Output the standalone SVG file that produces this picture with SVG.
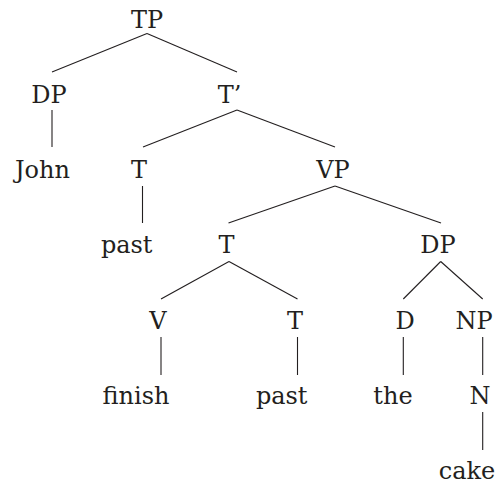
<svg xmlns="http://www.w3.org/2000/svg" width="496" height="484" viewBox="0 0 496 484">
<style>
text{font-family:"DejaVu Serif",serif;font-size:24px;fill:#231f20;text-anchor:middle}
#edges line{stroke:#231f20;stroke-width:1.1;fill:none}
</style>
<rect width="496" height="484" fill="#fff"/>
<g id="edges">
<line x1="147" y1="33.5" x2="52" y2="72"/>
<line x1="147" y1="33.5" x2="237" y2="72"/>
<line x1="52" y1="110" x2="52" y2="147"/>
<line x1="237" y1="110" x2="143" y2="147"/>
<line x1="237" y1="110" x2="335" y2="147"/>
<line x1="142.5" y1="186" x2="142.5" y2="223"/>
<line x1="335" y1="186" x2="228.5" y2="223"/>
<line x1="335" y1="186" x2="441" y2="223"/>
<line x1="229" y1="261.5" x2="161" y2="299"/>
<line x1="229" y1="261.5" x2="297.5" y2="299"/>
<line x1="440.7" y1="261.5" x2="403.3" y2="299"/>
<line x1="440.7" y1="261.5" x2="482.7" y2="299"/>
<line x1="161" y1="337" x2="161" y2="375"/>
<line x1="297.5" y1="337" x2="297.5" y2="375"/>
<line x1="403.3" y1="337" x2="403.3" y2="375"/>
<line x1="482.7" y1="337" x2="482.7" y2="375"/>
<line x1="482.7" y1="412" x2="482.7" y2="450"/>
</g>
<g id="n_TP"><text x="147" y="28">TP</text></g>
<g id="n_DP1"><text x="49" y="103">DP</text></g>
<g id="n_Tbar"><text x="229.5" y="103">T’</text></g>
<g id="n_John"><text x="42.5" y="178">John</text></g>
<g id="n_T1"><text x="139" y="178">T</text></g>
<g id="n_VP"><text x="333" y="178">VP</text></g>
<g id="n_past1"><text x="126.7" y="253">past</text></g>
<g id="n_T2"><text x="226.5" y="253">T</text></g>
<g id="n_DP2"><text x="438" y="253">DP</text></g>
<g id="n_V"><text x="158" y="329">V</text></g>
<g id="n_T3"><text x="295" y="329">T</text></g>
<g id="n_D"><text x="405" y="329">D</text></g>
<g id="n_NP"><text x="474" y="329">NP</text></g>
<g id="n_finish"><text x="136" y="404">finish</text></g>
<g id="n_past2"><text x="281.7" y="404">past</text></g>
<g id="n_the"><text x="393" y="404">the</text></g>
<g id="n_N"><text x="480" y="404">N</text></g>
<g id="n_cake"><text x="467" y="479">cake</text></g>
</svg>
